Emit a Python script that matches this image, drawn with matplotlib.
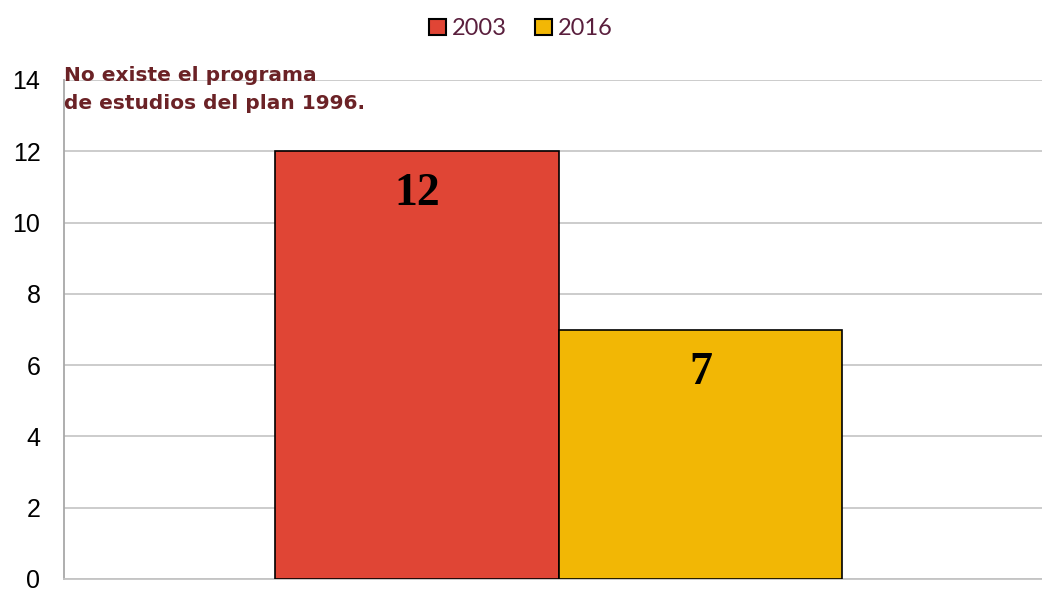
import matplotlib.pyplot as plt
from matplotlib.patches import Patch

years = ["2003", "2016"]
values = [12, 7]
colors = ["#E04535", "#F2B705"]
yticks = [0, 2, 4, 6, 8, 10, 12, 14]
note = "No existe el programa\nde estudios del plan 1996."

fig = plt.figure(figsize=(10.42, 5.89), dpi=100)
ax = fig.add_axes([64/1042, 10/589, 978/1042, 499/589])

# one category, two bars side by side
center = 0.006
width = 0.29
offsets = [-width/2, width/2]
for i, year in enumerate(years):
	ax.bar(center + offsets[i], values[i], width, color=colors[i], edgecolor="black", linewidth=1.2, label=year, zorder=3)
	ax.text(center + offsets[i], values[i] - 0.62, str(values[i]), ha="center", va="top",
		fontsize=33, fontweight="bold", family="Liberation Serif", color="black", zorder=4)

ax.set_xlim(-0.5, 0.5)
ax.set_ylim(0, 14)
ax.set_yticks(yticks)
ax.set_yticklabels([str(t) for t in yticks], fontsize=18, family="Liberation Sans")
ax.tick_params(axis="y", length=0, pad=17)
ax.set_xticks([])
ax.grid(axis="y", color="#c4c4c4", linewidth=1.2, zorder=0)
for side in ["top", "right"]:
	ax.spines[side].set_visible(False)
ax.spines["left"].set_color("#a8a8a8")
ax.spines["left"].set_linewidth(1.3)
ax.spines["bottom"].set_color("#c4c4c4")
ax.spines["bottom"].set_linewidth(1.3)

ax.text(0.0, 13.72, note, transform=ax.get_yaxis_transform(), ha="left", va="center",
	fontsize=14.5, fontweight="bold", color="#6B2226", linespacing=1.6, zorder=5)

handles = [Patch(facecolor=c, edgecolor="black", linewidth=1.5) for c in colors]
fig.legend(handles, years, loc="upper center", bbox_to_anchor=(0.5, 1.005), ncol=2, frameon=False,
	handlelength=0.7, handleheight=0.7, handletextpad=0.25, columnspacing=1.2,
	labelcolor="#5A1F3D", prop={"family": "Lato", "size": 17})

fig.savefig("out.png", dpi=100)
